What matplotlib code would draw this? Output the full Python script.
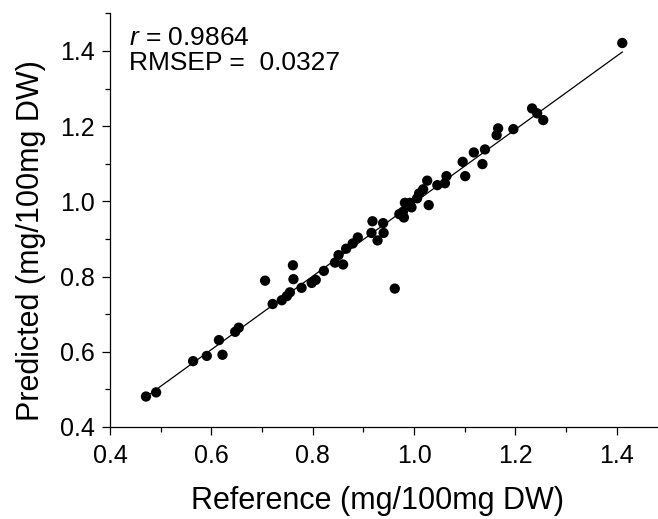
import numpy as np
import matplotlib
matplotlib.use("Agg")
import matplotlib.pyplot as plt
from matplotlib.ticker import MultipleLocator, FormatStrFormatter

# reference vs predicted values (mg/100mg DW)
reference = [0.471, 0.491, 0.564, 0.591, 0.622, 0.615, 0.647, 0.654, 0.706, 0.721,
             0.739, 0.749, 0.755, 0.761, 0.762, 0.778, 0.798, 0.806, 0.822, 0.844,
             0.851, 0.860, 0.866, 0.879, 0.889, 0.918, 0.916, 0.928, 0.940, 0.939,
             0.962, 0.971, 0.978, 0.980, 0.982, 0.992, 0.995, 1.006, 1.010, 1.018,
             1.026, 1.029, 1.046, 1.061, 1.064, 1.096, 1.101, 1.118, 1.135, 1.140,
             1.163, 1.166, 1.196, 1.233, 1.243, 1.255, 1.411]
predicted = [0.481, 0.492, 0.575, 0.589, 0.592, 0.631, 0.653, 0.664, 0.789, 0.727,
             0.737, 0.748, 0.758, 0.830, 0.793, 0.770, 0.783, 0.791, 0.815, 0.837,
             0.857, 0.832, 0.874, 0.888, 0.904, 0.947, 0.916, 0.896, 0.916, 0.942,
             0.768, 0.966, 0.972, 0.957, 0.996, 0.996, 0.984, 1.008, 1.021, 1.032,
             1.055, 0.990, 1.043, 1.048, 1.067, 1.105, 1.067, 1.130, 1.099, 1.138,
             1.176, 1.194, 1.192, 1.247, 1.234, 1.216, 1.421]

r_text = r'$r$ = 0.9864'
rmsep_text = 'RMSEP =  0.0327'

plt.rcParams['font.family'] = ['Liberation Sans', 'DejaVu Sans']
plt.rcParams['mathtext.fontset'] = 'custom'
plt.rcParams['mathtext.it'] = 'Liberation Sans:italic'
plt.rcParams['mathtext.rm'] = 'Liberation Sans'

x = np.array(reference)
y = np.array(predicted)

fig = plt.figure(figsize=(6.58, 5.19), dpi=100)
ax = fig.add_axes([0.1672, 0.1773, 0.8328, 0.7971])

# linear fit drawn across the data range
slope, intercept = np.polyfit(x, y, 1)
xs = np.array([x.min(), x.max()])
ax.plot(xs, slope * xs + intercept, color='black', lw=0.9, zorder=2)

ax.scatter(x, y, s=55, color='black', edgecolors='none', zorder=3)

ax.set_xlim(0.4, 1.4815)
ax.set_ylim(0.4, 1.5)
ax.xaxis.set_major_locator(MultipleLocator(0.2))
ax.xaxis.set_minor_locator(MultipleLocator(0.1))
ax.yaxis.set_major_locator(MultipleLocator(0.2))
ax.yaxis.set_minor_locator(MultipleLocator(0.1))
ax.xaxis.set_major_formatter(FormatStrFormatter('%.1f'))
ax.yaxis.set_major_formatter(FormatStrFormatter('%.1f'))

ax.spines['top'].set_visible(False)
ax.spines['right'].set_visible(False)
for sp in ['left', 'bottom']:
    ax.spines[sp].set_linewidth(0.9)
ax.tick_params(which='major', direction='out', length=6, width=0.9, labelsize=18)
ax.tick_params(axis='x', which='major', pad=6.5)
ax.tick_params(axis='y', which='major', pad=5)
ax.tick_params(which='minor', direction='out', length=3.5, width=0.9)

ax.set_xlabel('Reference (mg/100mg DW)', fontsize=22)
ax.set_ylabel('Predicted (mg/100mg DW)', fontsize=22)
ax.xaxis.set_label_coords(0.488, -0.143)
ax.yaxis.set_label_coords(-0.116, 0.45)

ax.text(0.034, 0.923, r_text, transform=ax.transAxes, fontsize=19, va='baseline')
ax.text(0.035, 0.863, rmsep_text, transform=ax.transAxes, fontsize=19, va='baseline')

fig.savefig('out.png', dpi=100)
